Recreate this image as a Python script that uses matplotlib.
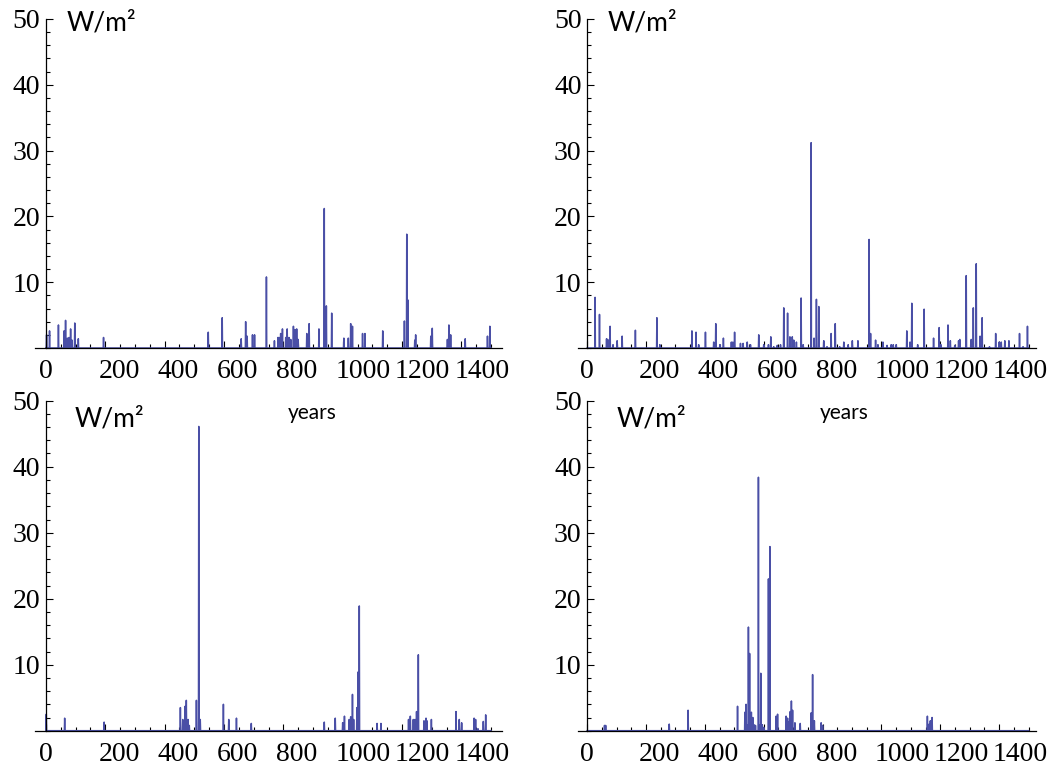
import matplotlib
matplotlib.use("Agg")
import matplotlib.pyplot as plt
import matplotlib.transforms as mtransforms
import numpy as np

plt.rcParams['font.family'] = ['Liberation Serif', 'DejaVu Serif']

# spike years and heights (W/m^2)
p1_years = [2, 12, 42, 61, 66, 72, 78, 83, 88, 97, 109, 194, 547, 594, 658, 673, 678,
            696, 703, 743, 770, 782, 786, 791, 797, 808, 813, 819, 825, 834, 839, 845,
            850, 879, 887, 920, 938, 945, 963, 1004, 1019, 1027, 1033, 1067, 1075, 1135,
            1208, 1216, 1220, 1243, 1246, 1297, 1302, 1353, 1358, 1364, 1413, 1488, 1496]
p1_vals = [2.0, 2.6, 3.5, 2.6, 4.2, 1.5, 1.6, 2.9, 1.2, 3.8, 1.4, 1.6, 2.4, 4.6, 1.4, 4.0, 1.8,
           2.0, 2.0, 10.8, 1.1, 1.6, 1.6, 2.2, 2.9, 1.6, 2.9, 1.6, 1.3, 3.3, 2.8, 2.9,
           1.3, 2.2, 3.7, 2.9, 21.2, 6.4, 5.3, 1.5, 1.5, 3.7, 3.3, 2.2, 2.2, 2.6,
           4.1, 17.3, 7.3, 1.2, 2.0, 1.8, 3.0, 1.3, 3.5, 2.0, 1.4, 1.8, 3.3]

p2_years = [27, 42, 66, 70, 78, 88, 102, 119, 164, 237, 247, 356, 370, 379, 402, 430, 437,
            451, 463, 490, 495, 501, 521, 530, 544, 555, 583, 600, 616, 624, 634, 646, 657,
            668, 681, 689, 697, 702, 711, 727, 734, 761, 771, 779, 787, 804, 815, 829, 843,
            858, 872, 887, 901, 920, 958, 963, 980, 988, 1005, 1019, 1033, 1040, 1050, 1086,
            1097, 1103, 1123, 1145, 1177, 1196, 1202, 1226, 1234, 1249, 1262, 1266, 1288,
            1305, 1312, 1322, 1335, 1342, 1367, 1388, 1400, 1407, 1419, 1433, 1469, 1481, 1496]
p2_vals = [7.7, 5.1, 1.4, 1.3, 3.3, 0.5, 1.1, 1.8, 2.7, 4.6, 0.5, 2.6, 2.4, 0.5, 2.4, 0.9, 3.7,
           0.5, 1.5, 0.9, 0.9, 2.4, 0.7, 0.7, 0.9, 0.5, 2.0, 0.5, 0.5, 1.7, 0.2, 0.4, 0.5,
           6.1, 5.3, 1.7, 1.7, 1.2, 0.9, 7.6, 0.5, 31.2, 1.5, 7.4, 6.3, 1.1, 0.2, 2.2, 3.7,
           0.2, 0.9, 0.5, 1.1, 1.1, 16.5, 2.2, 1.2, 0.5, 0.9, 0.4, 0.5, 0.5, 0.5, 2.6,
           0.9, 6.8, 0.5, 5.9, 1.5, 3.1, 0.5, 3.5, 1.1, 0.4, 1.1, 1.3, 11.0,
           1.3, 6.1, 12.8, 1.8, 4.6, 0.2, 2.2, 0.9, 0.9, 1.1, 1.1, 2.2, 0.2, 3.3]

p3_years = [1, 63, 196, 453, 461, 469, 473, 479, 483, 507, 515, 520, 598, 616, 642, 692,
            938, 975, 1000, 1006, 1022, 1027, 1033, 1037, 1048, 1052, 1056, 1116, 1129,
            1222, 1228, 1238, 1244, 1249, 1255, 1274, 1281, 1284, 1299, 1382, 1393, 1401,
            1443, 1448, 1456, 1474, 1482]
p3_vals = [2.5, 1.9, 1.3, 3.5, 1.7, 3.7, 4.6, 1.7, 0.8, 4.6, 46.1, 1.7, 4.0, 1.7, 1.9, 1.1,
           1.3, 1.9, 1.2, 2.2, 1.7, 2.1, 5.5, 1.7, 3.5, 8.9, 18.9, 1.1, 1.1,
           1.7, 2.2, 1.7, 1.7, 2.9, 11.5, 1.5, 1.9, 1.5, 1.7, 2.9, 1.7, 1.2,
           1.9, 1.7, 0.3, 1.4, 2.4]

p4_years = [59, 63, 279, 343, 511, 536, 540, 545, 548, 552, 558, 563, 567, 572, 582, 587,
            590, 595, 600, 616, 621, 642, 647, 676, 681, 685, 690, 694, 698, 706, 724,
            761, 766, 772, 795, 800, 1156, 1162, 1166, 1172]
p4_vals = [0.8, 0.8, 1.0, 3.1, 3.7, 2.8, 4.0, 0.9, 15.7, 11.7, 2.8, 2.0, 0.9, 0.8, 38.4, 0.9,
           8.7, 0.9, 0.5, 23.0, 27.9, 2.2, 2.5, 2.2, 1.9, 1.3, 2.9, 4.5, 3.1, 1.2, 1.1,
           2.7, 8.5, 1.5, 1.2, 0.8, 2.2, 1.0, 1.5, 2.0]

panels = [(p1_years, p1_vals), (p2_years, p2_vals), (p3_years, p3_vals), (p4_years, p4_vals)]

x_major = list(range(0, 1401, 200))
x_minor = list(range(0, 1501, 50))
y_major = [10, 20, 30, 40, 50]
y_minor = list(range(0, 51, 2))

W, H = 1050, 769
fig = plt.figure(figsize=(W / 100, H / 100), dpi=100)

# pixel boxes (left, top, right, bottom) and x ranges
boxes = [(35, 19, 502, 348), (578, 19, 1036, 348),
         (35, 400.7, 502, 730.7), (578, 400.7, 1036, 730.7)]
xlims = [(-37, 1537), (-31, 1525), (-37, 1537), (-31, 1525)]

line_color = '#4a4fa6'
offset = mtransforms.ScaledTranslation(-7 / 100, 0, fig.dpi_scale_trans)

for (yrs, vals), (l, t, r, b), xl in zip(panels, boxes, xlims):
    ax = fig.add_axes([l / W, 1 - b / H, (r - l) / W, (b - t) / H])
    years = np.arange(0, 1501)
    series = np.zeros(len(years))
    series[yrs] = vals
    ax.plot(years, series, color=line_color, lw=1.1)

    ax.set_xlim(*xl)
    ax.set_ylim(0, 50)
    ax.spines['top'].set_visible(False)
    ax.spines['right'].set_visible(False)
    ax.spines['left'].set_position(('data', 0))
    ax.spines['left'].set_linewidth(0.9)
    ax.spines['bottom'].set_linewidth(0.9)

    ax.set_xticks(x_major)
    ax.set_xticklabels([str(v) for v in x_major])
    ax.set_xticks(x_minor, minor=True)
    ax.set_yticks(y_major)
    ax.set_yticklabels([str(v) for v in y_major])
    ax.set_yticks(y_minor, minor=True)

    ax.tick_params(axis='both', which='both', direction='in', width=0.8, labelsize=20)
    ax.tick_params(axis='both', which='major', length=5)
    ax.tick_params(axis='both', which='minor', length=3)
    ax.tick_params(axis='x', which='major', pad=8)
    ax.tick_params(axis='y', which='major', pad=4)

    for lab in ax.get_xticklabels():
        lab.set_horizontalalignment('left')
        lab.set_transform(lab.get_transform() + offset)


def label(x, y, s, size):
    fig.text(x / W, 1 - y / H, s, fontsize=size, ha='left', va='baseline',
             family=['Lato', 'DejaVu Sans'])


label(67, 31, 'W/m²', 19)
label(608, 31, 'W/m²', 19)
label(75, 426, 'W/m²', 19)
label(617, 427, 'W/m²', 19)
label(288, 419, 'years', 15)
label(820, 419, 'years', 15)

fig.savefig('out.png', dpi=100)
